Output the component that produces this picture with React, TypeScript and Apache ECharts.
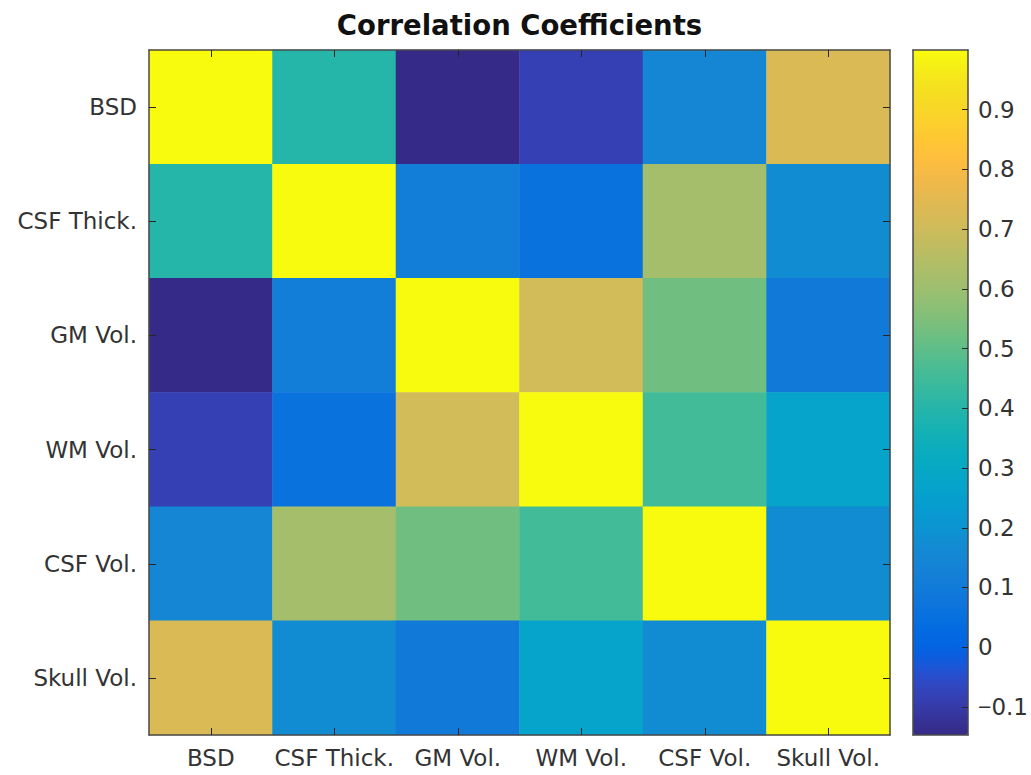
import React, { useEffect, useRef } from "react";
import * as echarts from "echarts";

// ---- data ----
const variables = ["BSD", "CSF Thick.", "GM Vol.", "WM Vol.", "CSF Vol.", "Skull Vol."];

const rowBSD = [1.0, 0.4, -0.147, -0.084, 0.15, 0.73];
const rowCSFThick = [0.4, 1.0, 0.113, 0.06, 0.615, 0.175];
const rowGMVol = [-0.147, 0.113, 1.0, 0.71, 0.525, 0.095];
const rowWMVol = [-0.084, 0.06, 0.71, 1.0, 0.453, 0.265];
const rowCSFVol = [0.15, 0.615, 0.525, 0.453, 1.0, 0.175];
const rowSkullVol = [0.73, 0.175, 0.095, 0.265, 0.175, 1.0];
const matrixRows = [rowBSD, rowCSFThick, rowGMVol, rowWMVol, rowCSFVol, rowSkullVol];

const colorMin = -0.147;
const colorMax = 1.0;
const colorbarTicks = [-0.1, 0, 0.1, 0.2, 0.3, 0.4, 0.5, 0.6, 0.7, 0.8, 0.9];

// parula colormap (64 levels)
const parula = [
  [0.2081, 0.1663, 0.5292], [0.2116, 0.1898, 0.5777], [0.2123, 0.2138, 0.627], [0.2081, 0.2386, 0.6771],
  [0.1959, 0.2645, 0.7279], [0.1707, 0.2919, 0.7792], [0.1253, 0.3242, 0.8303], [0.0591, 0.3598, 0.8683],
  [0.0117, 0.3875, 0.882], [0.006, 0.4086, 0.8828], [0.0165, 0.4266, 0.8786], [0.0329, 0.443, 0.872],
  [0.0498, 0.4586, 0.8641], [0.0629, 0.4737, 0.8554], [0.0723, 0.4887, 0.8467], [0.0779, 0.504, 0.8384],
  [0.0793, 0.52, 0.8312], [0.0749, 0.5375, 0.8263], [0.0641, 0.557, 0.824], [0.0488, 0.5772, 0.8228],
  [0.0343, 0.5966, 0.8199], [0.0265, 0.6137, 0.8135], [0.0239, 0.6287, 0.8038], [0.0231, 0.6418, 0.7913],
  [0.0228, 0.6535, 0.7768], [0.0267, 0.6642, 0.7607], [0.0384, 0.6743, 0.7436], [0.059, 0.6838, 0.7254],
  [0.0843, 0.6928, 0.7062], [0.1133, 0.7015, 0.6859], [0.1453, 0.7098, 0.6646], [0.1801, 0.7177, 0.6424],
  [0.2178, 0.725, 0.6193], [0.2586, 0.7317, 0.5954], [0.3022, 0.7376, 0.5712], [0.3482, 0.7424, 0.5473],
  [0.3953, 0.7459, 0.5244], [0.442, 0.7481, 0.5033], [0.4871, 0.7491, 0.484], [0.53, 0.7491, 0.4661],
  [0.5709, 0.7485, 0.4494], [0.6099, 0.7473, 0.4337], [0.6473, 0.7456, 0.4188], [0.6834, 0.7435, 0.4044],
  [0.7184, 0.7411, 0.3905], [0.7525, 0.7384, 0.3768], [0.7858, 0.7356, 0.3633], [0.8185, 0.7327, 0.3498],
  [0.8507, 0.7299, 0.336], [0.8824, 0.7274, 0.3217], [0.9139, 0.7258, 0.3063], [0.945, 0.7261, 0.2886],
  [0.9739, 0.7314, 0.2666], [0.9938, 0.7455, 0.2403], [0.999, 0.7653, 0.2164], [0.9955, 0.7861, 0.1967],
  [0.988, 0.8066, 0.1794], [0.9789, 0.8271, 0.1633], [0.9697, 0.8481, 0.1475], [0.9626, 0.8705, 0.1309],
  [0.9589, 0.8949, 0.1132], [0.9598, 0.9218, 0.0948], [0.9661, 0.9514, 0.0755], [0.9763, 0.9831, 0.0538],
];

const FONT = "DejaVu Sans";
const TEXT_COLOR = "#333333";

export default function App() {
  const ref = useRef<HTMLDivElement>(null);

  useEffect(() => {
    if (!ref.current) return;
    const chart = echarts.init(ref.current, null, { renderer: "svg" });

    const colors = parula.map(
      ([r, g, b]) => `rgb(${Math.round(r * 255)},${Math.round(g * 255)},${Math.round(b * 255)})`
    );

    const data: [number, number, number][] = [];
    matrixRows.forEach((row, r) => row.forEach((v, c) => data.push([c, r, v])));

    const axisLine = { show: true, onZero: false, lineStyle: { color: "#4a4a4a", width: 1.5 } };
    const tickStyle = (len: number) => ({
      show: true,
      inside: true,
      alignWithLabel: true,
      interval: 0,
      length: len,
      lineStyle: { color: "#262626", width: 1 },
    });
    const fmt = (v: number) => {
      const r = Math.round(v * 10) / 10;
      if (r === 0) return "0";
      return r < 0 ? "{m|\u2212}" + Math.abs(r).toFixed(1) : r.toFixed(1);
    };

    chart.setOption({
      animation: false,
      title: {
        text: "Correlation Coefficients",
        left: 519.5,
        top: 11,
        textAlign: "center",
        padding: 0,
        textStyle: { fontFamily: FONT, fontWeight: "bold", fontSize: 27.5, color: "#111111" },
      },
      grid: [
        { left: 149, top: 50, width: 741, height: 685, outerBoundsMode: "none", containLabel: false },
        { left: 913, top: 50, width: 55, height: 685, outerBoundsMode: "none", containLabel: false },
      ],
      xAxis: [
        {
          type: "category",
          gridIndex: 0,
          data: variables,
          position: "bottom",
          z: 10,
          axisLine,
          axisTick: tickStyle(7),
          axisLabel: { interval: 0, margin: 11, fontFamily: FONT, fontSize: 23, color: TEXT_COLOR },
          splitLine: { show: false },
        },
        {
          type: "category",
          gridIndex: 0,
          data: variables,
          position: "top",
          z: 10,
          axisLine,
          axisTick: tickStyle(7),
          axisLabel: { show: false },
          splitLine: { show: false },
        },
        {
          type: "category",
          gridIndex: 1,
          data: [""],
          position: "bottom",
          z: 10,
          axisLine,
          axisTick: { show: false },
          axisLabel: { show: false },
        },
        {
          type: "category",
          gridIndex: 1,
          data: [""],
          position: "top",
          z: 10,
          axisLine,
          axisTick: { show: false },
          axisLabel: { show: false },
        },
      ],
      yAxis: [
        {
          type: "category",
          gridIndex: 0,
          data: variables,
          inverse: true,
          position: "left",
          z: 10,
          axisLine,
          axisTick: tickStyle(7),
          axisLabel: { interval: 0, margin: 12, fontFamily: FONT, fontSize: 23, color: TEXT_COLOR },
          splitLine: { show: false },
        },
        {
          type: "category",
          gridIndex: 0,
          data: variables,
          inverse: true,
          position: "right",
          z: 10,
          axisLine,
          axisTick: tickStyle(7),
          axisLabel: { show: false },
          splitLine: { show: false },
        },
        {
          type: "value",
          gridIndex: 1,
          min: colorMin,
          max: colorMax,
          position: "left",
          z: 10,
          axisLine,
          axisTick: { show: false },
          axisLabel: { show: false },
          splitLine: { show: false },
        },
        {
          type: "value",
          gridIndex: 1,
          min: colorMin,
          max: colorMax,
          position: "right",
          z: 10,
          axisLine,
          axisTick: {
            show: true,
            inside: true,
            length: 6,
            customValues: colorbarTicks,
            lineStyle: { color: "#262626", width: 1 },
          },
          axisLabel: {
            show: true,
            margin: 10,
            customValues: colorbarTicks,
            formatter: (v: number) => fmt(v),
            fontFamily: FONT,
            fontSize: 23,
            color: TEXT_COLOR,
            rich: {
              m: { fontFamily: "Liberation Sans", fontSize: 23, color: TEXT_COLOR },
            },
          },
          splitLine: { show: false },
        },
      ],
      visualMap: {
        type: "continuous",
        min: colorMin,
        max: colorMax,
        dimension: 2,
        seriesIndex: 0,
        calculable: false,
        hoverLink: false,
        orient: "vertical",
        left: 913,
        top: 50,
        itemWidth: 55,
        itemHeight: 685,
        padding: 0,
        text: null,
        inRange: { color: colors },
      },
      series: [
        {
          type: "heatmap",
          xAxisIndex: 0,
          yAxisIndex: 0,
          data,
          itemStyle: { borderWidth: 0 },
          emphasis: { disabled: true },
        },
      ],
    });

    return () => chart.dispose();
  }, []);

  return (
    <div
      ref={ref}
      style={{ position: "absolute", left: 0, top: 0, width: 1031, height: 775 }}
    />
  );
}
